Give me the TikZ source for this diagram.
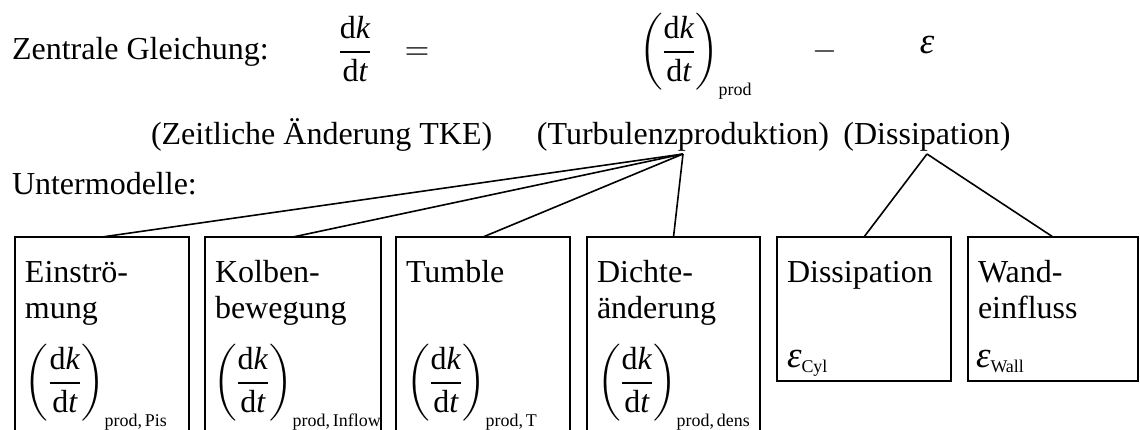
\documentclass[tikz,border=0pt]{standalone}
\usepackage{amsmath}
\usepackage{fontspec}
\setmainfont{Liberation Serif}
\newcommand{\frk}{\dfrac{\text{d}\textit{k}}{\text{d}\textit{t}}}
\newcommand{\subsz}[1]{\text{\fontsize{5.6}{7}\selectfont #1}}
\newcommand{\dkdt}[1]{\left(\mkern-1.5mu\frk\mkern-1.5mu\right)_{\raisebox{-1.2pt}{\subsz{#1}}}}
\newcommand{\eps}{\text{\fontsize{11.5}{12}\selectfont\textit{ε}}}
\tikzset{
  txt/.style={inner sep=0pt, outer sep=0pt, anchor=base west, font=\fontsize{10}{12}\selectfont},
  ctxt/.style={txt, anchor=base},
  box/.style={draw, line width=0.55pt, inner sep=0pt, outer sep=0pt, anchor=north west},
  conn/.style={line width=0.5pt},
}
\begin{document}
\begin{tikzpicture}[x=0.3125pt,y=-0.3125pt]
\useasboundingbox (0,0) rectangle (1140,430);
% top equation
\node[txt] (zg) at (12,60) {Zentrale Gleichung:};
\node[ctxt] (lhs) at (355,60) {$\frk$};
\node[ctxt] (eq) at (417,60) {$=$};
\node[txt] (prod) at (639,60) {$\dkdt{prod}$};
\node[ctxt] (minus) at (825,60) {$-$};
\node[ctxt] (epsnode) at (927,54) {$\eps$};
% explanation line
\node[txt] (ex1) at (151,145) {(Zeitliche Änderung TKE)};
\node[ctxt] (ex2) at (683,145) {(Turbulenzproduktion)};
\node[ctxt] (ex3) at (927,145) {(Dissipation)};
\node[txt] (um) at (12,195) {Untermodelle:};
% boxes
\node[box, minimum width={174*0.3125pt}, minimum height={200*0.3125pt}] (b1) at (15,237) {};
\node[box, minimum width={176*0.3125pt}, minimum height={200*0.3125pt}] (b2) at (205,237) {};
\node[box, minimum width={174*0.3125pt}, minimum height={200*0.3125pt}] (b3) at (396,237) {};
\node[box, minimum width={173*0.3125pt}, minimum height={200*0.3125pt}] (b4) at (587,237) {};
\node[box, minimum width={174*0.3125pt}, minimum height={144*0.3125pt}] (b5) at (777,237) {};
\node[box, minimum width={170*0.3125pt}, minimum height={144*0.3125pt}] (b6) at (968,237) {};
% box texts
\node[txt] (t1a) at (25,283) {Einströ-};
\node[txt] (t1b) at (25,319) {mung};
\node[txt] (f1) at (25,391) {$\dkdt{prod,\,Pis}$};
\node[txt] (t2a) at (215,283) {Kolben-};
\node[txt] (t2b) at (215,319) {bewegung};
\node[txt] (f2) at (213,391) {$\dkdt{prod,\,Inflow}$};
\node[txt] (t3a) at (406,283) {Tumble};
\node[txt] (f3) at (406,391) {$\dkdt{prod,\,T}$};
\node[txt] (t4a) at (597,283) {Dichte-};
\node[txt] (t4b) at (597,319) {änderung};
\node[txt] (f4) at (597,391) {$\dkdt{prod,\,dens}$};
\node[txt] (t5a) at (787,283) {Dissipation};
\node[txt] (e5) at (787,368) {$\eps_{\subsz{Cyl}}$};
\node[txt] (t6a) at (978,283) {Wand-};
\node[txt] (t6b) at (978,319) {einfluss};
\node[txt] (e6) at (976,368) {$\eps_{\subsz{Wall}}$};
% connectors
\coordinate (P) at (683,154);
\coordinate (D) at (927,154);
\foreach \b in {b1,b2,b3,b4} \draw[conn] (P) -- (\b.north);
\foreach \b in {b5,b6} \draw[conn] (D) -- (\b.north);
\end{tikzpicture}
\end{document}
